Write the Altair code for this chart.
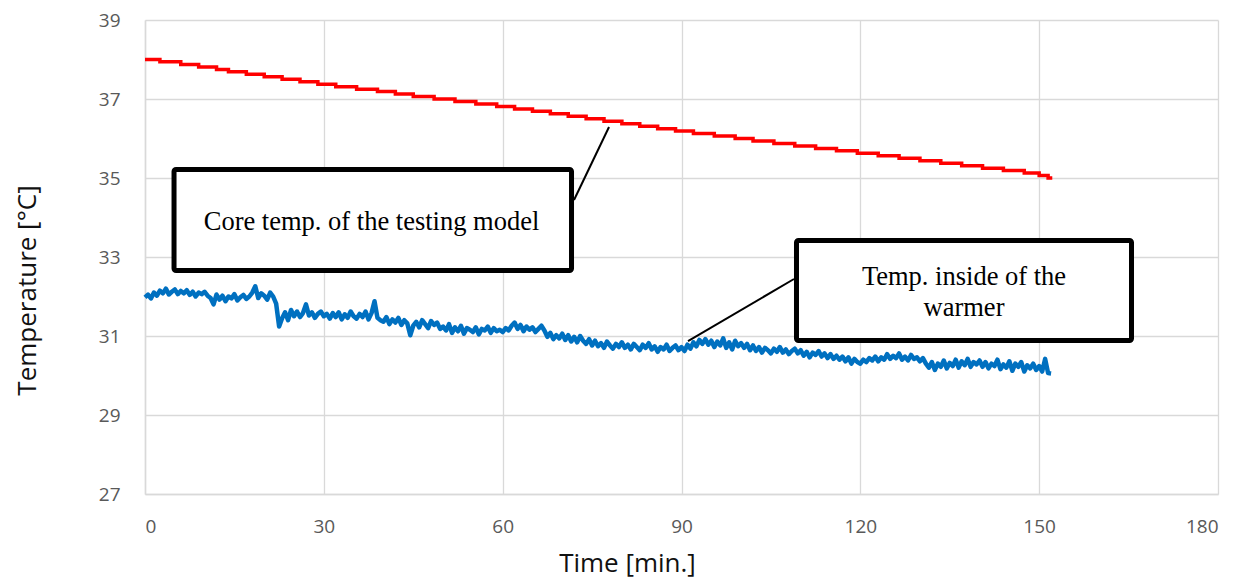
import altair as alt
import pandas as pd

# ---- data ----
# Core temperature of the testing model (stepwise logger readings; time of each change, min)
red_times = [0, 2.5, 6, 9, 12, 14, 17, 20, 23, 26,
             29, 32, 35.5, 39, 42, 45, 48.5, 52, 55.5, 59,
             62, 65, 68, 71, 74, 77, 80, 83, 86, 89,
             92, 95.5, 99, 102, 105.5, 109, 112.5, 116, 119.5, 123,
             126.5, 130, 133.5, 137, 140.5, 144, 147.5, 150, 151.5, 152.2]
red_temps = [38.0, 37.94, 37.875, 37.8125, 37.75, 37.6875, 37.625, 37.5625, 37.5, 37.4375,
             37.375, 37.3125, 37.25, 37.1875, 37.125, 37.0625, 37.0, 36.9375, 36.875, 36.8125,
             36.75, 36.6875, 36.625, 36.5625, 36.5, 36.4375, 36.375, 36.3125, 36.25, 36.1875,
             36.125, 36.0625, 36.0, 35.9375, 35.875, 35.8125, 35.75, 35.6875, 35.625, 35.5625,
             35.5, 35.4375, 35.375, 35.3125, 35.25, 35.1875, 35.125, 35.0625, 35.0, 35.0]

# Temperature inside of the warmer, one reading every half minute from t = 0
blue_step_min = 0.5
blue_temps = [
    31.98, 32.05, 31.95, 32.10, 32.02, 32.15, 32.08, 32.20, 32.05, 32.12, 32.18, 32.06, 32.14, 32.08, 32.16, 32.04, 32.12, 32.00, 32.10, 32.06,
    32.12, 32.02, 31.96, 31.80, 32.05, 31.92, 32.02, 31.88, 32.00, 31.95, 32.06, 31.90, 31.98, 32.04, 31.94, 32.00, 32.10, 32.26, 31.96, 32.08,
    32.02, 31.92, 32.10, 32.00, 31.82, 31.24, 31.45, 31.60, 31.40, 31.66, 31.50, 31.62, 31.48, 31.58, 31.80, 31.52, 31.60, 31.46, 31.56, 31.62,
    31.50, 31.56, 31.44, 31.58, 31.48, 31.60, 31.42, 31.55, 31.46, 31.62, 31.50, 31.44, 31.56, 31.48, 31.62, 31.42, 31.58, 31.88, 31.46, 31.40,
    31.36, 31.48, 31.30, 31.42, 31.34, 31.46, 31.28, 31.40, 31.32, 31.02, 31.26, 31.36, 31.22, 31.40, 31.30, 31.20, 31.38, 31.28, 31.34, 31.18,
    31.24, 31.14, 31.30, 31.08, 31.22, 31.12, 31.26, 31.06, 31.20, 31.16, 31.10, 31.22, 31.04, 31.18, 31.14, 31.24, 31.08, 31.20, 31.12, 31.16,
    31.10, 31.20, 31.14, 31.26, 31.34, 31.18, 31.28, 31.12, 31.24, 31.16, 31.22, 31.10, 31.18, 31.26, 31.14, 30.98, 31.08, 30.92, 31.02, 30.94,
    31.06, 30.90, 31.02, 30.86, 30.98, 30.84, 31.00, 30.88, 30.80, 30.92, 30.76, 30.88, 30.74, 30.82, 30.70, 30.86, 30.76, 30.68, 30.80, 30.72,
    30.84, 30.70, 30.78, 30.66, 30.80, 30.72, 30.64, 30.78, 30.70, 30.82, 30.66, 30.74, 30.60, 30.72, 30.66, 30.78, 30.62, 30.70, 30.76, 30.64,
    30.72, 30.62, 30.78, 30.68, 30.84, 30.74, 30.90, 30.80, 30.92, 30.78, 30.88, 30.72, 30.86, 30.76, 30.94, 30.70, 30.84, 30.66, 30.88, 30.74,
    30.82, 30.70, 30.80, 30.64, 30.76, 30.62, 30.72, 30.58, 30.70, 30.64, 30.56, 30.68, 30.60, 30.72, 30.58, 30.66, 30.54, 30.62, 30.68, 30.56,
    30.64, 30.50, 30.60, 30.46, 30.58, 30.52, 30.62, 30.48, 30.56, 30.44, 30.54, 30.42, 30.50, 30.40, 30.48, 30.36, 30.46, 30.30, 30.42, 30.34,
    30.30, 30.40, 30.34, 30.44, 30.38, 30.48, 30.36, 30.46, 30.40, 30.54, 30.42, 30.50, 30.44, 30.56, 30.40, 30.48, 30.38, 30.52, 30.42, 30.46,
    30.36, 30.44, 30.30, 30.20, 30.34, 30.14, 30.30, 30.22, 30.38, 30.18, 30.32, 30.24, 30.40, 30.20, 30.36, 30.26, 30.42, 30.22, 30.34, 30.28,
    30.38, 30.22, 30.34, 30.18, 30.30, 30.24, 30.40, 30.16, 30.28, 30.20, 30.36, 30.12, 30.30, 30.22, 30.34, 30.10, 30.26, 30.18, 30.30, 30.14,
    30.24, 30.10, 30.42, 30.06, 30.05,
]

x_ticks = [0, 30, 60, 90, 120, 150, 180]
y_ticks = [27, 29, 31, 33, 35, 37, 39]

label_core = "Core temp. of the testing model"
label_warmer = ["Temp. inside of the", "warmer"]

# ---- tables ----
red_df = pd.DataFrame({"t": red_times, "v": red_temps})
blue_df = pd.DataFrame({"t": [i * blue_step_min for i in range(len(blue_temps))], "v": blue_temps})

# annotation placement (in data units)
boxes = pd.DataFrame({
    "x": [4.87, 109.29], "x2": [71.55, 165.49],
    "y": [35.215, 33.418], "y2": [32.658, 30.886],
})
connectors = pd.DataFrame({
    "x": [71.97, 108.87], "x2": [77.84, 91.09],
    "y": [34.443, 32.443], "y2": [36.291, 30.873],
})
texts = pd.DataFrame({
    "x": [38.0, 137.39, 137.39],
    "y": [33.684, 32.291, 31.506],
    "label": [label_core] + label_warmer,
})

xs = alt.Scale(domain=[0, 180], nice=False)
ys = alt.Scale(domain=[27, 39], nice=False)

x_axis = alt.Axis(values=x_ticks, title="Time [min.]", labelPadding=23,
                  titleX=482, titleY=77, titleBaseline="alphabetic", titleAlign="center")
y_axis = alt.Axis(values=y_ticks, title="Temperature [°C]", labelPadding=25,
                  titleX=-110, titleY=270, titleBaseline="alphabetic", titleAlign="center",
                  titleAngle=270)

red = alt.Chart(red_df).mark_line(color="#ff0000", strokeWidth=3.5, interpolate="step-after").encode(
    x=alt.X("t:Q", scale=xs, axis=x_axis),
    y=alt.Y("v:Q", scale=ys, axis=y_axis),
)
blue = alt.Chart(blue_df).mark_line(color="#0070c0", strokeWidth=4.5, strokeJoin="round").encode(
    x=alt.X("t:Q", scale=xs),
    y=alt.Y("v:Q", scale=ys),
)
conn = alt.Chart(connectors).mark_rule(color="#000000", strokeWidth=2).encode(
    x=alt.X("x:Q", scale=xs), x2="x2:Q",
    y=alt.Y("y:Q", scale=ys), y2="y2:Q",
)
box = alt.Chart(boxes).mark_rect(fill="#ffffff", stroke="#000000", strokeWidth=5, cornerRadius=2).encode(
    x=alt.X("x:Q", scale=xs), x2="x2:Q",
    y=alt.Y("y:Q", scale=ys), y2="y2:Q",
)
txt = alt.Chart(texts).mark_text(font="Liberation Serif", fontSize=26.5, color="#000000",
                                 align="center", baseline="alphabetic").encode(
    x=alt.X("x:Q", scale=xs),
    y=alt.Y("y:Q", scale=ys),
    text="label:N",
)

chart = alt.layer(red, blue, conn, box, txt).properties(
    width=1073, height=474,
    autosize=alt.AutoSizeParams(type="none"),
    padding={"left": 137, "top": 12, "right": 23, "bottom": 86},
).configure_view(stroke=None).configure_axis(
    grid=True, gridColor="#d9d9d9", gridWidth=1.3,
    domainColor="#d9d9d9", domainWidth=1.5,
    ticks=False,
    labelFont="Open Sans", labelFontSize=19, labelColor="#595959",
    titleFont="Open Sans", titleFontSize=26, titleFontWeight="normal", titleColor="#111111",
)

chart.save("out.html", embed_options={"renderer": "svg", "actions": False})
